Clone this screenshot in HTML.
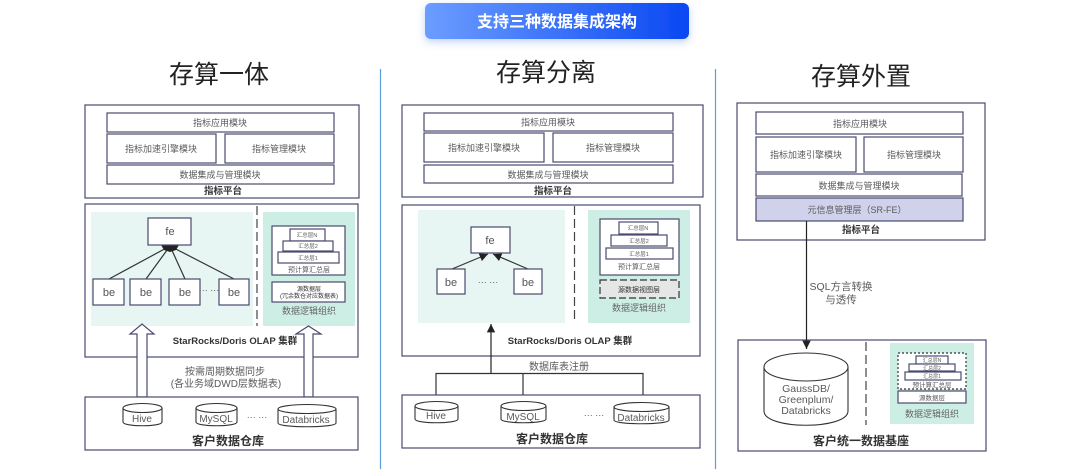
<!DOCTYPE html>
<html><head><meta charset="utf-8">
<style>
html,body{margin:0;padding:0;background:#fff;width:1080px;height:469px;overflow:hidden}
svg{display:block;filter:blur(.3px)}
text{font-family:"Liberation Sans","Noto Sans CJK SC",sans-serif;text-anchor:middle;fill:#5a5a5a}
.b{fill:#fff;stroke:#4a4a6e;stroke-width:1.2}
.o{fill:#fff;stroke:#4a4a6e;stroke-width:1.2}
.l{stroke:#333;stroke-width:1.2;fill:none}
.t{font-size:9px}
.u{font-size:10px}
.s{font-size:5.500px}
.h{font-size:9.500px;font-weight:bold;fill:#333}
.k{font-size:12px;font-weight:bold;fill:#333}
.g{font-size:9px;fill:#666}
.m{font-size:11px;fill:#555}
.c{fill:#fff;stroke:#333;stroke-width:1.1}
</style></head><body>
<svg width="1080" height="469" viewBox="0 0 1080 469" xmlns="http://www.w3.org/2000/svg">
<defs>
<linearGradient id="gr" x1="0" x2="1" y1="0" y2="0"><stop offset="0" stop-color="#6c9dff"/><stop offset="1" stop-color="#0a48f2"/></linearGradient>
<filter id="sh" x="-10%" y="-30%" width="120%" height="170%"><feDropShadow dx="0" dy="3" stdDeviation="4" flood-color="#3a6fe0" flood-opacity=".3"/></filter>
<marker id="ar" markerWidth="8" markerHeight="8" refX="7" refY="4" orient="auto"><path d="M0,0.5L7,4L0,7.500z" fill="#222"/></marker>
</defs>

<rect x="425" y="3" width="264" height="36" rx="6" fill="url(#gr)" filter="url(#sh)"/>
<text x="557" y="27" style="font-size:16px;font-weight:bold;fill:#fff">支持三种数据集成架构</text>

<line x1="380.500" y1="69" x2="380.500" y2="469" stroke="#5b9be0" stroke-width="1.2"/>
<line x1="715.500" y1="69" x2="715.500" y2="469" stroke="#5b9be0" stroke-width="1.2"/>

<text x="219" y="83" style="font-size:25px;fill:#222">存算一体</text>
<text x="546" y="81" style="font-size:25px;fill:#222">存算分离</text>
<text x="861" y="85" style="font-size:25px;fill:#222">存算外置</text>

<!-- Panel 1 -->
<rect class="o" x="85" y="105" width="274" height="93"/>
<rect class="b" x="107" y="113" width="227" height="19"/><text class="t" x="220" y="126">指标应用模块</text>
<rect class="b" x="107" y="134" width="109" height="29"/><text class="t" x="161" y="152">指标加速引擎模块</text>
<rect class="b" x="225" y="134" width="109" height="29"/><text class="t" x="279" y="152">指标管理模块</text>
<rect class="b" x="107" y="165" width="227" height="19"/><text class="t" x="220" y="178">数据集成与管理模块</text>
<text class="h" x="223" y="194">指标平台</text>

<rect class="o" x="85" y="204" width="273" height="153"/>
<rect x="91" y="212" width="162" height="114" fill="#e8f6f3"/>
<line x1="257" y1="206" x2="257" y2="326" stroke="#444" stroke-width="1.2" stroke-dasharray="9 4"/>
<rect x="263" y="212" width="92" height="114" fill="#cdeee5"/>
<g class="l">
<line x1="170" y1="246" x2="109" y2="279"/><line x1="170" y1="246" x2="146" y2="279"/><line x1="170" y1="246" x2="185" y2="279"/><line x1="170" y1="246" x2="234" y2="279"/>
</g>
<path d="M161,245h18l-3,5l-6,2l-6,-2z" fill="#222"/>
<rect class="b" x="148" y="218" width="43" height="27"/><text class="m" x="170" y="235">fe</text>
<rect class="b" x="93" y="279" width="31" height="26"/><text class="m" x="109" y="296">be</text>
<rect class="b" x="130" y="279" width="31" height="26"/><text class="m" x="146" y="296">be</text>
<rect class="b" x="169" y="279" width="31" height="26"/><text class="m" x="185" y="296">be</text>
<rect class="b" x="219" y="279" width="30" height="26"/><text class="m" x="234" y="296">be</text>
<text class="t" x="209" y="293">··· ···</text>
<rect class="b" x="272" y="226" width="73" height="49"/>
<rect class="b" x="290" y="229" width="35" height="12"/><text class="s" x="307" y="237">汇总层N</text>
<rect class="b" x="283" y="241" width="50" height="10"/><text class="s" x="308" y="248">汇总层2</text>
<rect class="b" x="278" y="252" width="61" height="11"/><text class="s" x="308" y="260">汇总层1</text>
<text x="309" y="272" style="font-size:7px">预计算汇总层</text>
<rect class="b" x="272" y="282" width="73" height="20"/>
<text x="309" y="291" style="font-size:6px;fill:#333">源数据层</text><text x="309" y="298" style="font-size:6px;fill:#333">(冗余数仓对应数据表)</text>
<text class="g" x="309" y="314">数据逻辑组织</text>
<text class="h" x="235" y="344">StarRocks/Doris OLAP 集群</text>
<path class="b" d="M137,397V334H130L142,324L154,334H147V397z"/>
<path class="b" d="M304,397V334H296L308.500,326L321,334H313V397z"/>
<text class="u" x="225" y="375">按需周期数据同步</text>
<text class="u" x="226" y="387">(各业务域DWD层数据表)</text>
<rect class="o" x="85" y="397" width="273" height="53"/>
<path class="c" d="M123,408v14c0,5 39,5 39,0v-14"/><ellipse class="c" cx="142.500" cy="408" rx="19.500" ry="4.500"/><text class="u" x="142" y="422">Hive</text>
<path class="c" d="M196,408v14c0,5 41,5 41,0v-14"/><ellipse class="c" cx="216.500" cy="408" rx="20.500" ry="4.500"/><text class="u" x="216" y="422">MySQL</text>
<path class="c" d="M278,409v14c0,5 58,5 58,0v-14"/><ellipse class="c" cx="307" cy="409" rx="29" ry="4.500"/><text class="u" x="306" y="423">Databricks</text>
<text class="t" x="257" y="420">··· ···</text>
<text class="k" x="228" y="445">客户数据仓库</text>

<!-- Panel 2 -->
<rect class="o" x="402" y="105" width="301" height="92"/>
<rect class="b" x="424" y="113" width="249" height="18"/><text class="t" x="548" y="125.500">指标应用模块</text>
<rect class="b" x="424" y="133" width="120" height="29"/><text class="t" x="484" y="151">指标加速引擎模块</text>
<rect class="b" x="553" y="133" width="120" height="29"/><text class="t" x="613" y="151">指标管理模块</text>
<rect class="b" x="424" y="165" width="249" height="18"/><text class="t" x="548" y="178">数据集成与管理模块</text>
<text class="h" x="553" y="194">指标平台</text>

<rect class="o" x="402" y="205" width="298" height="151"/>
<rect x="418" y="210" width="147" height="113" fill="#e8f6f3"/>
<line x1="574.500" y1="206" x2="574.500" y2="323" stroke="#444" stroke-width="1.2" stroke-dasharray="9 4"/>
<rect x="588" y="210" width="102" height="113" fill="#cdeee5"/>
<line class="l" x1="452" y1="269" x2="488" y2="254" marker-end="url(#ar)"/>
<line class="l" x1="528" y1="269" x2="493" y2="254" marker-end="url(#ar)"/>
<rect class="b" x="471" y="227" width="39" height="26"/><text class="m" x="490" y="244">fe</text>
<rect class="b" x="437" y="269" width="28" height="25"/><text class="m" x="451" y="286">be</text>
<rect class="b" x="514" y="269" width="28" height="25"/><text class="m" x="528" y="286">be</text>
<text class="t" x="488" y="285">··· ···</text>
<rect class="b" x="600" y="219" width="79" height="56"/>
<rect class="b" x="619" y="222" width="39" height="12"/><text class="s" x="638" y="230">汇总层N</text>
<rect class="b" x="611" y="235" width="56" height="11"/><text class="s" x="639" y="243">汇总层2</text>
<rect class="b" x="606" y="248" width="67" height="11"/><text class="s" x="639" y="256">汇总层1</text>
<text x="639" y="269" style="font-size:7px">预计算汇总层</text>
<rect x="600" y="280" width="79" height="18" fill="#e6e6e6" stroke="#333" stroke-width="1.2" stroke-dasharray="7 3"/>
<text x="639" y="292" style="font-size:7px;fill:#333">源数据视图层</text>
<text class="g" x="639" y="311">数据逻辑组织</text>
<text class="h" x="570" y="344">StarRocks/Doris OLAP 集群</text>
<line x1="491" y1="373" x2="491" y2="324" stroke="#222" stroke-width="1.2" marker-end="url(#ar)"/>
<path class="l" d="M436,400V373.500H643V401M523,373.500V402"/>
<text class="u" x="559" y="370">数据库表注册</text>
<rect class="o" x="402" y="395" width="298" height="53"/>
<path class="c" d="M415,406v13c0,5 43,5 43,0v-13"/><ellipse class="c" cx="436.500" cy="406" rx="21.500" ry="4.500"/><text class="u" x="436" y="419">Hive</text>
<path class="c" d="M501,406v13c0,5 45,5 45,0v-13"/><ellipse class="c" cx="523.500" cy="406" rx="22.500" ry="4.500"/><text class="u" x="523" y="420">MySQL</text>
<path class="c" d="M614,407v13c0,5 55,5 55,0v-13"/><ellipse class="c" cx="641.500" cy="407" rx="27.500" ry="4.500"/><text class="u" x="641" y="421">Databricks</text>
<text class="t" x="594" y="418">··· ···</text>
<text class="k" x="552" y="443">客户数据仓库</text>

<!-- Panel 3 -->
<rect class="o" x="737" y="103" width="248" height="137"/>
<rect class="b" x="756" y="112" width="207" height="22"/><text class="t" x="860" y="127">指标应用模块</text>
<rect class="b" x="756" y="137" width="100" height="35"/><text class="t" x="806" y="158">指标加速引擎模块</text>
<rect class="b" x="864" y="137" width="99" height="35"/><text class="t" x="914" y="158">指标管理模块</text>
<rect class="b" x="756" y="174" width="206" height="22"/><text class="t" x="859" y="189">数据集成与管理模块</text>
<rect x="756" y="198" width="207" height="23" fill="#cfd2ea" stroke="#4a4a6e" stroke-width="1.2"/><text class="t" x="857" y="213">元信息管理层（SR-FE）</text>
<text class="h" x="861" y="233">指标平台</text>
<rect class="o" x="738" y="340" width="248" height="111"/>
<line x1="806.500" y1="221" x2="806.500" y2="349" stroke="#222" stroke-width="1.2" marker-end="url(#ar)"/>
<text class="u" x="841" y="290" style="font-size:10.500px">SQL方言转换</text>
<text class="u" x="841" y="303" style="font-size:10.500px">与透传</text>
<path class="c" d="M764,367v44c0,19 84,19 84,0v-44"/><ellipse class="c" cx="806" cy="367" rx="42" ry="14"/>
<text x="806" y="392" style="font-size:10.500px">GaussDB/</text>
<text x="806" y="403" style="font-size:10.500px">Greenplum/</text>
<text x="806" y="414" style="font-size:10.500px">Databricks</text>
<line x1="866" y1="342" x2="866" y2="425" stroke="#444" stroke-width="1.2" stroke-dasharray="9 4"/>
<rect x="890" y="343" width="84" height="81" fill="#cdeee5"/>
<rect x="898" y="353" width="68" height="36" fill="#fff" stroke="#333" stroke-width="1.2" stroke-dasharray="2 2"/>
<rect class="b" x="916" y="356" width="32" height="8"/><text x="932" y="362" style="font-size:5px">汇总层N</text>
<rect class="b" x="909" y="364" width="46" height="7"/><text x="932" y="370" style="font-size:5px">汇总层2</text>
<rect class="b" x="905" y="372" width="56" height="8"/><text x="932" y="378" style="font-size:5px">汇总层1</text>
<text x="932" y="387" style="font-size:6.500px">预计算汇总层</text>
<rect class="b" x="898" y="391" width="68" height="12"/><text x="932" y="400" style="font-size:6.500px">源数据层</text>
<text class="g" x="932" y="417">数据逻辑组织</text>
<text class="k" x="861" y="445">客户统一数据基座</text>
</svg>
</body></html>
